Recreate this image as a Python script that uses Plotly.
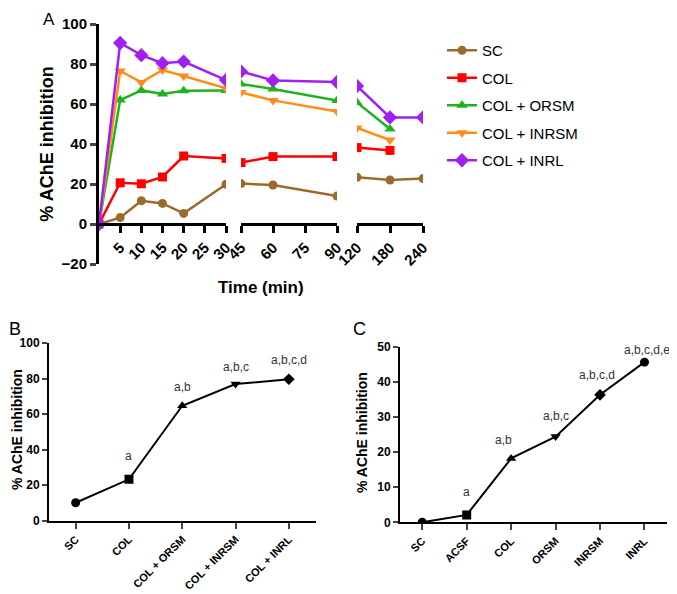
import plotly.graph_objects as go

# ---------------- Panel A data ----------------
t_seg1 = [0, 5, 10, 15, 20, 30]
t_seg2 = [45, 60, 90]
t_seg3 = [120, 180, 240]
series_names = ["SC", "COL", "COL + ORSM", "COL + INRSM", "COL + INRL"]
sc_1 = [0, 3.2, 11.6, 10.3, 5.3, 19.9]
sc_2 = [20.2, 19.5, 14.0]
sc_3 = [23.4, 22.0, 22.7]
col_1 = [0, 20.6, 20.1, 23.5, 34.0, 32.8]
col_2 = [30.7, 33.7, 33.7]
col_3 = [38.2, 36.8, None]
orsm_1 = [0, 62.0, 66.8, 65.0, 66.6, 66.8]
orsm_2 = [70.0, 67.5, 61.8]
orsm_3 = [60.8, 47.5, None]
inrsm_1 = [0, 76.5, 70.8, 77.0, 74.0, 67.8]
inrsm_2 = [65.8, 61.8, 56.2]
inrsm_3 = [48.0, 42.0, None]
inrl_1 = [0, 90.5, 84.4, 80.4, 81.2, 72.0]
inrl_2 = [76.3, 71.8, 71.0]
inrl_3 = [69.0, 53.3, 53.3]
a_yticks = [-20, 0, 20, 40, 60, 80, 100]

# ---------------- Panel B data ----------------
b_groups = ["SC", "COL", "COL + ORSM", "COL + INRSM", "COL + INRL"]
b_values = [10.1, 23.3, 64.7, 76.9, 79.6]
b_labels = ["", "a", "a,b", "a,b,c", "a,b,c,d"]
b_label_y = [None, 36.6, 75.4, 86.7, 90.4]

# ---------------- Panel C data ----------------
c_groups = ["SC", "ACSF", "COL", "ORSM", "INRSM", "INRL"]
c_values = [0.0, 2.1, 18.2, 24.4, 36.3, 45.6]
c_labels = ["", "a", "a,b", "a,b,c", "a,b,c,d", "a,b,c,d,e"]
c_label_y = [None, 8.7, 23.3, 30.3, 42.0, 49.0]

W, H = 677, 594
OFF = 8  # page body margin of the default html template


def px(x):
    return (x - OFF) / W


def py(y):
    return 1 - (y - OFF) / H


FONT = "Liberation Sans, Arial, sans-serif"
colors = ["#9C6A2C", "#FF0000", "#1DB31D", "#FF8C1A", "#A020F0"]
symbols = ["circle", "square", "triangle-up", "triangle-down", "diamond"]
msizes = [9, 9, 10, 10, 11]
seg_data = [
    (sc_1, sc_2, sc_3),
    (col_1, col_2, col_3),
    (orsm_1, orsm_2, orsm_3),
    (inrsm_1, inrsm_2, inrsm_3),
    (inrl_1, inrl_2, inrl_3),
]

fig = go.Figure()

for i, name in enumerate(series_names):
    for j, (tx, xa) in enumerate(zip([t_seg1, t_seg2, t_seg3], ["x", "x2", "x3"])):
        fig.add_trace(go.Scatter(
            x=tx, y=seg_data[i][j], xaxis=xa, yaxis="y",
            mode="lines+markers", name=name, legendgroup=name,
            showlegend=(j == 0),
            line=dict(color=colors[i], width=2.5),
            marker=dict(color=colors[i], symbol=symbols[i], size=msizes[i]),
            connectgaps=False,
        ))

# Panel B
fig.add_trace(go.Scatter(
    x=b_groups, y=b_values, xaxis="x4", yaxis="y4", mode="lines+markers",
    showlegend=False, line=dict(color="black", width=2),
    marker=dict(color="black", symbol=["circle", "square", "triangle-up", "triangle-down", "diamond"], size=9),
))
# Panel C
fig.add_trace(go.Scatter(
    x=c_groups, y=c_values, xaxis="x5", yaxis="y5", mode="lines+markers",
    showlegend=False, line=dict(color="black", width=2),
    marker=dict(color="black", symbol=["circle", "square", "triangle-up", "triangle-down", "diamond", "circle"], size=9),
))

a_y0 = py(224)
tickfontA = dict(family=FONT, size=15, color="black", weight="bold")
xcommonA = dict(anchor="free", position=a_y0, showline=True, linecolor="black", linewidth=3,
                ticks="outside", ticklen=7, tickwidth=3, tickcolor="black", tickangle=-45,
                showgrid=False, zeroline=False, tickfont=tickfontA)

tickfontBC = dict(family=FONT, size=12, color="black", weight="bold")
xtickfontBC = dict(family=FONT, size=11, color="black", weight="bold")

fig.update_layout(
    width=W, height=H,
    margin=dict(l=0, r=0, t=0, b=0, autoexpand=False),
    plot_bgcolor="white", paper_bgcolor="white",
    font=dict(family=FONT, color="black"),
    xaxis=dict(domain=[px(99), px(226)], range=[0, 30], tickvals=[5, 10, 15, 20, 25, 30], **xcommonA),
    xaxis2=dict(domain=[px(241), px(337)], range=[45, 90], tickvals=[45, 60, 75, 90], **xcommonA),
    xaxis3=dict(domain=[px(357), px(423)], range=[120, 240], tickvals=[120, 180, 240], **xcommonA),
    yaxis=dict(domain=[py(264), py(24)], range=[-20, 100], tickvals=a_yticks, anchor="x",
               showline=True, linecolor="black", linewidth=3, ticks="outside", ticklen=6,
               tickwidth=3, showgrid=False, zeroline=False, tickfont=tickfontA,
               title=dict(text="% AChE inhibition", standoff=4,
                          font=dict(family=FONT, size=18, color="black", weight="bold"))),
    xaxis4=dict(domain=[px(49), px(315.5)], range=[-0.5, 4.5], anchor="y4", type="category",
                showline=True, linecolor="black", linewidth=2, ticks="outside", ticklen=6,
                tickwidth=2, tickangle=-45, showgrid=False, zeroline=False, tickfont=xtickfontBC),
    yaxis4=dict(domain=[py(520.7), py(343)], range=[0, 100], dtick=20, anchor="x4",
                showline=True, linecolor="black", linewidth=2, ticks="outside", ticklen=5,
                tickwidth=2, showgrid=False, zeroline=False, tickfont=tickfontBC),
    xaxis5=dict(domain=[px(400), px(666.7)], range=[-0.5, 5.5], anchor="y5", type="category",
                showline=True, linecolor="black", linewidth=2, ticks="outside", ticklen=6,
                tickwidth=2, tickangle=-45, showgrid=False, zeroline=False, tickfont=xtickfontBC),
    yaxis5=dict(domain=[py(522.3), py(346.7)], range=[0, 50], dtick=10, anchor="x5",
                showline=True, linecolor="black", linewidth=2, ticks="outside", ticklen=5,
                tickwidth=2, showgrid=False, zeroline=False, tickfont=tickfontBC),
    legend=dict(x=px(442), y=py(34), xanchor="left", yanchor="top",
                font=dict(family=FONT, size=15, color="black"),
                tracegroupgap=5, bgcolor="rgba(0,0,0,0)"),
)

ann = []


def paper_text(text, x, y, size, bold=False, angle=0, xanchor="center", yanchor="middle"):
    f = dict(family=FONT, size=size, color="black")
    if bold:
        f["weight"] = "bold"
    return dict(text=text, x=px(x), y=py(y), xref="paper", yref="paper", showarrow=False,
                xanchor=xanchor, yanchor=yanchor, textangle=angle, font=f)


# panel letters
ann.append(paper_text("A", 49, 8, 17, yanchor="top"))
ann.append(paper_text("B", 15, 329, 18))
ann.append(paper_text("C", 360, 329, 18))
# axis titles
ann.append(paper_text("Time (min)", 261, 287, 17, bold=True))
ann.append(paper_text("% AChE inhibition", 17, 430, 14, bold=True, angle=-90))
ann.append(paper_text("% AChE inhibition", 362, 433, 14, bold=True, angle=-90))
# significance letters
for g, t, yv in zip(b_groups, b_labels, b_label_y):
    if t:
        ann.append(dict(text=t, x=g, y=yv, xref="x4", yref="y4", showarrow=False,
                        xanchor="center", yanchor="middle",
                        font=dict(family=FONT, size=12, color="#333333")))
c_shift = [0, 0, -8, 0, -3, 3]
for g, t, yv, s in zip(c_groups, c_labels, c_label_y, c_shift):
    if t:
        ann.append(dict(text=t, x=g, y=yv, xref="x5", yref="y5", showarrow=False, xshift=s,
                        xanchor="center", yanchor="middle",
                        font=dict(family=FONT, size=12, color="#333333")))
fig.update_layout(annotations=ann)

fig.write_html("out.html")
